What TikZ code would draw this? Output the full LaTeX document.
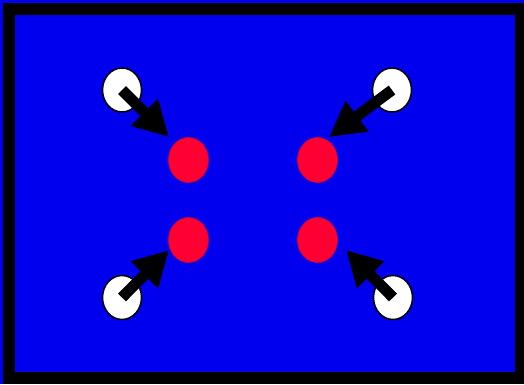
\documentclass[tikz,border=0pt]{standalone}
\usetikzlibrary{arrows.meta,shapes.geometric}
\definecolor{bgblue}{RGB}{0,0,238}
\definecolor{dotred}{RGB}{255,0,51}

\begin{document}
\begin{tikzpicture}[
  x=1pt,y=-1pt,
  hole/.style={ellipse,draw=black,line width=1.5pt,fill=white,
               minimum width=39pt,minimum height=44pt,inner sep=0pt},
  dot/.style={ellipse,draw=dotred!85!black,line width=0.6pt,fill=dotred,
              minimum width=40pt,minimum height=45pt,inner sep=0pt},
  push/.style={line width=11pt,-{Triangle[length=35pt,width=36pt]}}
]
\useasboundingbox (0,0) rectangle (524,384);
\clip (0,0) rectangle (524,384);
\fill[bgblue] (0,0) rectangle (524,384);
\draw[line width=12pt] (9,9) rectangle (521,378);

% red dots in the middle
\node[dot] (r1) at (188.5,160) {};
\node[dot] (r2) at (317.5,160) {};
\node[dot] (r3) at (188.5,240) {};
\node[dot] (r4) at (317.5,240) {};

% white holes in the corners
\node[hole] (w1) at (122,90) {};
\node[hole] (w2) at (392,90) {};
\node[hole] (w3) at (122,297.5) {};
\node[hole] (w4) at (393,297.5) {};

% arrow tips
\coordinate (t1) at (169,137);
\coordinate (t2) at (329,137);
\coordinate (t3) at (169,250);
\coordinate (t4) at (346,250);

\draw[push] (w1.center) -- (t1);
\draw[push] (w2.center) -- (t2);
\draw[push] (w3.center) -- (t3);
\draw[push] (w4.center) -- (t4);

\end{tikzpicture}
\end{document}
